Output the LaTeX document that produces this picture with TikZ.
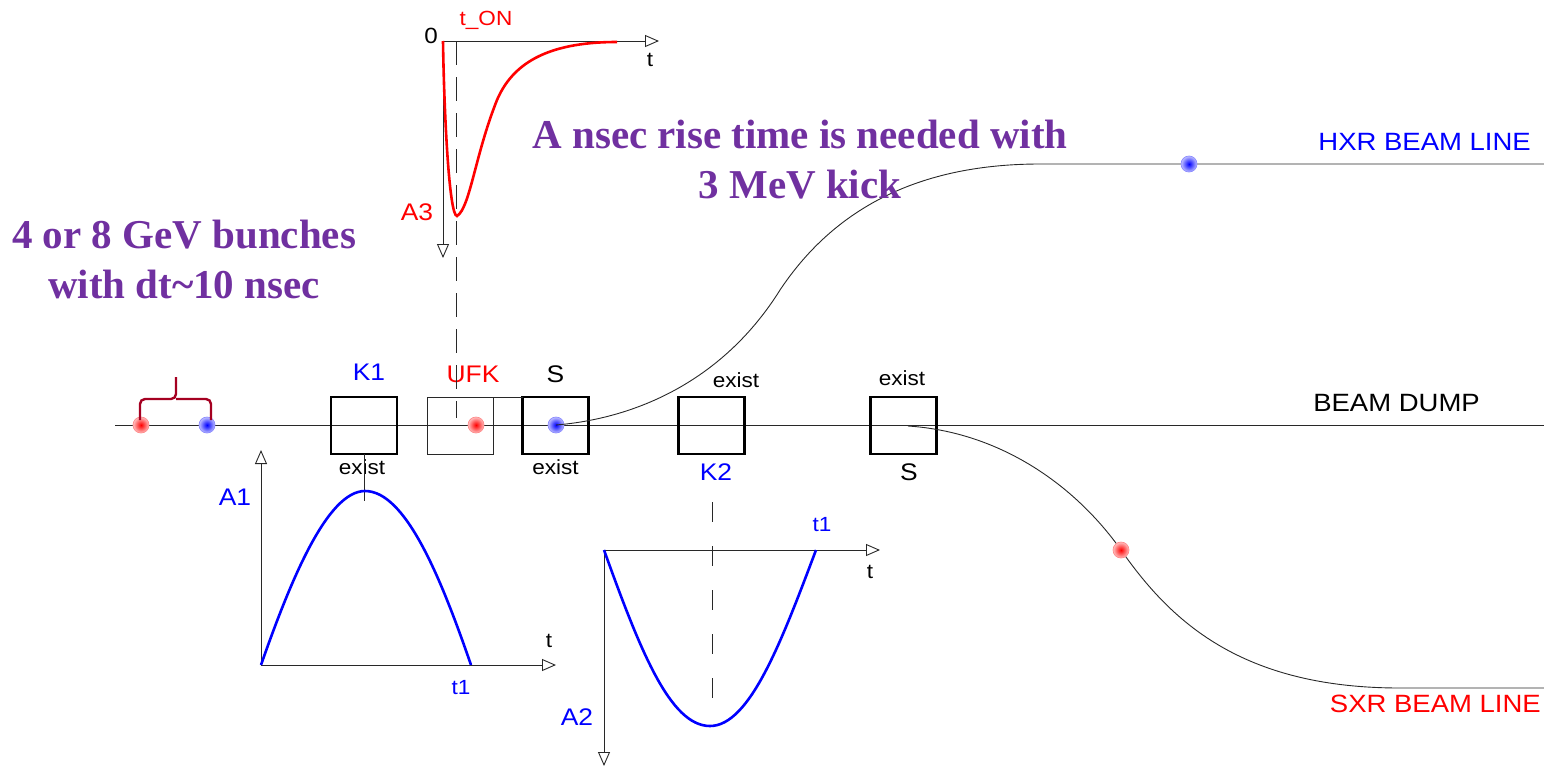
\documentclass[tikz,border=0pt]{standalone}
\usepackage{fontspec}
\usepackage{xcolor}
\usepackage{tikz}
\setmainfont{Liberation Sans}[FakeStretch=1.1]
\newfontfamily\headfont{Liberation Serif}
\usetikzlibrary{arrows.meta,positioning}
\definecolor{bmblue}{RGB}{0,0,255}
\definecolor{bmred}{RGB}{255,0,0}
\definecolor{bmbrace}{RGB}{165,0,33}
\definecolor{bmpurple}{RGB}{112,48,160}
\definecolor{bmline}{RGB}{40,40,40}
\tikzset{
  bmkicker/.style={draw=black, line width=2.6pt, minimum width=66pt, minimum height=57pt, inner sep=0pt, outer sep=0pt},
  bmfast/.style={draw=bmline, line width=0.9pt, minimum width=66pt, minimum height=57pt, inner sep=0pt, outer sep=0pt},
  bmredbunch/.style={circle, draw=red!45, line width=0.7pt, inner color=red, outer color=red!25, minimum size=16pt, inner sep=0pt},
  bmbluebunch/.style={circle, draw=blue!45, line width=0.7pt, inner color=blue, outer color=blue!25, minimum size=16pt, inner sep=0pt},
  bmthin/.style={draw=bmline, line width=0.9pt},
  bmaxis/.style={draw=bmline, line width=0.9pt, -{Triangle[open, fill=white, length=14pt, width=12pt]}},
  bmdash/.style={draw=bmline, line width=0.9pt, dash pattern=on 20pt off 24pt},
  bmpulseblue/.style={draw=bmblue, line width=2.6pt},
  bmpulsered/.style={draw=bmred, line width=2.6pt},
  bmtext/.style={font=\fontsize{24}{28}\selectfont, inner sep=0pt},
  bmbeam/.style={font=\fontsize{25}{29}\selectfont, inner sep=0pt},
  bmsmall/.style={font=\fontsize{20.5}{24}\selectfont, inner sep=0pt},
  bmhead/.style={font=\headfont\bfseries\fontsize{41}{50}\selectfont, text=bmpurple, align=center, inner sep=0pt}
}
\begin{document}
\begin{tikzpicture}[x=1pt, y=-1pt, node distance=0pt and 30pt]
  \useasboundingbox (0,0) rectangle (1544,769);
  % beam line
  \coordinate (beamstart) at (115,425);
  \coordinate (beamend) at (1544,425);
  \draw[bmthin] (beamstart) -- (beamend);
  \node[bmkicker] (k1box) at (364,425.5) {};
  \node[bmfast, right=of k1box] (ufkbox) {};
  \node[bmkicker, right=29.5pt of ufkbox] (s1box) {};
  \node[bmkicker, right=90pt of s1box] (k2box) {};
  \node[bmkicker, right=126pt of k2box] (s2box) {};
  \draw[bmthin] (ufkbox.north east) -- (s1box.north west);
  \node[bmredbunch] (bunchA) at (141,425) {};
  \node[bmbluebunch] (bunchB) at (207,425) {};
  \node[bmredbunch] (bunchC) at (476,425) {};
  \node[bmbluebunch] (bunchD) at (556,425) {};
  % bunch spacing
  \coordinate (bracetip) at (176,377);
  \draw[draw=bmbrace, line width=2.4pt, rounded corners=5pt] (140,420) |- (176,399) -- (bracetip);
  \draw[draw=bmbrace, line width=2.4pt, rounded corners=5pt] (211,420) |- (176,399);
  % branch lines
  \coordinate (hxrbend) at (780,290);
  \coordinate (hxrflat) at (1040,164);
  \coordinate (hxrend) at (1544,164);
  \coordinate (sxrstart) at (908,426);
  \coordinate (sxrbend) at (1121,550);
  \coordinate (sxrflat) at (1400,688);
  \coordinate (sxrend) at (1544,688);
  \draw[bmthin] (bunchD.center) .. controls (640,418) and (725,378) .. (hxrbend) .. controls (830,215) and (910,164) .. (hxrflat) -- (hxrend);
  \draw[bmthin] (sxrstart) .. controls (1000,432) and (1075,485) .. (sxrbend) .. controls (1170,620) and (1240,688) .. (sxrflat) -- (sxrend);
  \node[bmredbunch] (bunchF) at (sxrbend) {};
  \node[bmbluebunch] (bunchE) at (1189,164) {};
  % box labels
  \node[bmtext, text=bmblue, above=16pt of k1box, xshift=5pt] (k1label) {K1};
  \node[bmtext, text=bmred, above=14pt of ufkbox, xshift=13pt] (ufklabel) {UFK};
  \node[bmtext, text=black, above=14pt of s1box] (s1label) {S};
  \node[bmsmall, above=9pt of k2box, xshift=24.5pt] (k2exist) {exist};
  \node[bmsmall, above=11pt of s2box, xshift=-1.5pt] (s2exist) {exist};
  \node[bmsmall, below=5pt of k1box, xshift=-2pt] (k1exist) {exist};
  \node[bmsmall, below=5pt of s1box] (s1exist) {exist};
  \node[bmtext, text=bmblue, below=10pt of k2box, xshift=4.5pt] (k2label) {K2};
  \node[bmtext, below=10pt of s2box, xshift=5.5pt] (s2label) {S};
  \node[bmbeam, text=bmblue, anchor=east] (hxrlabel) at (1531,142) {HXR BEAM LINE};
  \node[bmbeam, anchor=east] (dumplabel) at (1480,403) {BEAM DUMP};
  \node[bmbeam, text=bmred, anchor=east] (sxrlabel) at (1541,704) {SXR BEAM LINE};
  % K1 pulse
  \coordinate (a1zero) at (261,665);
  \coordinate (a1top) at (261,450);
  \coordinate (a1right) at (556,665);
  \coordinate (a1peak) at (365,491);
  \coordinate (a1end) at (471,665);
  \coordinate (a1tick) at (364,501);
  \draw[bmaxis] (a1zero) -- (a1top);
  \draw[bmaxis] (a1zero) -- (a1right);
  \draw[bmthin] (k1box.south) -- (a1tick);
  \draw[bmpulseblue] (a1zero) .. controls (290,582) and (327,491) .. (a1peak) .. controls (405,491) and (440,575) .. (a1end);
  \node[bmtext, text=bmblue] (a1label) at (235,497) {A1};
  \node[bmsmall] (a1t) at (549,641) {t};
  \node[bmsmall, text=bmblue] (a1t1) at (461,688) {t1};
  % K2 pulse
  \coordinate (a2zero) at (604,550);
  \coordinate (a2bottom) at (604,766);
  \coordinate (a2right) at (880,550);
  \coordinate (a2peak) at (710,726);
  \coordinate (a2end) at (816,550);
  \coordinate (k2dashtop) at (712,502);
  \coordinate (k2dash) at (712,700);
  \draw[bmaxis] (a2zero) -- (a2bottom);
  \draw[bmaxis] (a2zero) -- (a2right);
  \draw[bmdash] (k2dashtop) -- (k2dash);
  \draw[bmpulseblue] (a2zero) .. controls (640,650) and (670,726) .. (a2peak) .. controls (750,726) and (782,640) .. (a2end);
  \node[bmtext, text=bmblue] (a2label) at (577,717) {A2};
  \node[bmsmall] (a2t) at (870,572) {t};
  \node[bmsmall, text=bmblue] (a2t1) at (822,525) {t1};
  % UFK pulse
  \coordinate (a3zero) at (443,41);
  \coordinate (a3bottom) at (443,258);
  \coordinate (a3right) at (659,41);
  \coordinate (a3peak) at (457,216);
  \coordinate (a3bend) at (497,100);
  \coordinate (a3end) at (617,42);
  \coordinate (ufkdashtop) at (456,41);
  \coordinate (ufkdash) at (456,418);
  \draw[bmaxis] (a3zero) -- (a3bottom);
  \draw[bmaxis] (a3zero) -- (a3right);
  \draw[bmthin, dash pattern=on 24pt off 12pt] (ufkdashtop) -- (ufkdash);
  \draw[bmpulsered] (a3zero) .. controls (444,110) and (449,216) .. (a3peak) .. controls (470,208) and (475,155) .. (a3bend) .. controls (512,65) and (545,42) .. (a3end);
  \node[bmsmall, font=\fontsize{22}{26}\selectfont] (a3zerolabel) at (431,36) {0};
  \node[bmsmall] (a3t) at (650,60) {t};
  \node[bmsmall, text=bmred] (tonlabel) at (486,20) {t\_ON};
  \node[bmtext, text=bmred] (a3label) at (417,212) {A3};
  % headings
  \node[bmhead] (kickhead) at (800,160) {A nsec rise time is needed with\\3 MeV kick};
  \node[bmhead] (bunchhead) at (184,259) {4 or 8 GeV bunches\\with dt\textasciitilde10 nsec};
\end{tikzpicture}
\end{document}
